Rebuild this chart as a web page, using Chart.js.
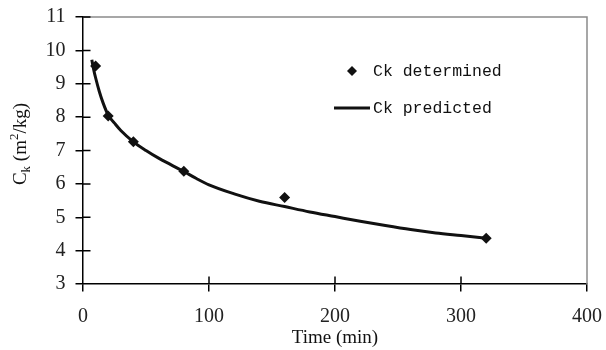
<!DOCTYPE html>
<html>
<head>
<meta charset="utf-8">
<script src="https://cdn.jsdelivr.net/npm/chart.js@4.4.1/dist/chart.umd.min.js"></script>
<style>
    html, body { margin: 0; padding: 0; background: #fff; }
    #wrap { width: 606px; height: 350px; }
</style>
</head>
<body>
<div id="wrap"><canvas id="ckChart"></canvas></div>
<script>
// Measured Ck values (time in min, Ck in m2/kg)
const timeDetermined = [10, 20, 40, 80, 160, 320];
const ckDetermined = [9.53, 8.03, 7.26, 6.38, 5.59, 4.37];

// Predicted curve
const timePredicted = [7, 8.5, 10, 13, 16, 20, 25, 30, 40, 50, 60, 70, 80, 90, 100, 120, 140, 160, 180, 200, 220, 240, 260, 280, 300, 320];
const ckPredicted = [9.72, 9.42, 9.18, 8.76, 8.42, 8.06, 7.82, 7.6, 7.26, 7.0, 6.77, 6.57, 6.37, 6.16, 5.97, 5.7, 5.48, 5.32, 5.16, 5.02, 4.88, 4.75, 4.63, 4.53, 4.45, 4.37];

// Axis ticks and texts
const xTicks = [0, 100, 200, 300, 400];
const yTicks = [3, 4, 5, 6, 7, 8, 9, 10, 11];
const seriesLabels = ["Ck determined", "Ck predicted"];
const xTitle = "Time (min)";
const yTitleParts = [["C", "base"], ["k", "sub"], [" (m", "base"], ["2", "sup"], ["/kg)", "base"]];

const serif = "'Liberation Serif', 'Times New Roman', serif";
const mono = "'Liberation Mono', 'DejaVu Sans Mono', monospace";
const TICK = 7.5;

function toPoints(xs, ys) {
    return xs.map((x, i) => ({ x: x, y: ys[i] }));
}

// Draws the parts Chart.js has no option for: inner tick halves, grey frame,
// the rich-text y title and the legend box inside the plot
const extrasPlugin = {
    id: "extras",
    afterDraw(chart) {
        const ctx = chart.ctx;
        const area = chart.chartArea;
        const xs = chart.scales.x;
        const ys = chart.scales.y;

        ctx.save();
        // grey top and right frame
        ctx.strokeStyle = "#8a8a8a";
        ctx.lineWidth = 1.5;
        ctx.beginPath();
        ctx.moveTo(area.left, area.top);
        ctx.lineTo(area.right, area.top);
        ctx.lineTo(area.right, area.bottom);
        ctx.stroke();

        // inner halves of the crossing tick marks
        ctx.strokeStyle = "#000";
        ctx.lineWidth = 1.5;
        ctx.beginPath();
        xTicks.slice(1, -1).forEach(v => {
            const px = xs.getPixelForValue(v);
            ctx.moveTo(px, area.bottom);
            ctx.lineTo(px, area.bottom - TICK);
        });
        yTicks.slice(1).forEach(v => {
            const py = ys.getPixelForValue(v);
            ctx.moveTo(area.left, py);
            ctx.lineTo(area.left + TICK, py);
        });
        ctx.stroke();

        // y title with subscript k and superscript 2
        const sizes = { base: 19, sub: 13, sup: 13 };
        const shift = { base: 0, sub: 4, sup: -8 };
        let total = 0;
        yTitleParts.forEach(([txt, kind]) => {
            ctx.font = sizes[kind] + "px " + serif;
            total += ctx.measureText(txt).width;
        });
        ctx.translate(26, 144);
        ctx.rotate(-Math.PI / 2);
        ctx.fillStyle = "#111";
        ctx.textBaseline = "alphabetic";
        let cx = -total / 2;
        yTitleParts.forEach(([txt, kind]) => {
            ctx.font = sizes[kind] + "px " + serif;
            ctx.fillText(txt, cx, shift[kind]);
            cx += ctx.measureText(txt).width;
        });
        ctx.restore();

        // legend
        ctx.save();
        ctx.fillStyle = "#111";
        ctx.font = "16.5px " + mono;
        ctx.textBaseline = "middle";
        const mx = 352, my = 71, r = 5;
        ctx.beginPath();
        ctx.moveTo(mx, my - r);
        ctx.lineTo(mx + r, my);
        ctx.lineTo(mx, my + r);
        ctx.lineTo(mx - r, my);
        ctx.closePath();
        ctx.fill();
        ctx.fillText(seriesLabels[0], 373, my + 1);
        ctx.strokeStyle = "#111";
        ctx.lineWidth = 3;
        ctx.beginPath();
        ctx.moveTo(334, 108);
        ctx.lineTo(370, 108);
        ctx.stroke();
        ctx.fillText(seriesLabels[1], 373, 109);
        ctx.restore();
    }
};

const ctx = document.getElementById("ckChart").getContext("2d");
new Chart(ctx, {
    type: "scatter",
    data: {
        datasets: [
            {
                label: seriesLabels[0],
                data: toPoints(timeDetermined, ckDetermined),
                pointStyle: "rectRot",
                pointRadius: 5.5,
                backgroundColor: "#111",
                borderColor: "#111",
                borderWidth: 0,
                showLine: false
            },
            {
                label: seriesLabels[1],
                data: toPoints(timePredicted, ckPredicted),
                showLine: true,
                pointRadius: 0,
                borderColor: "#111",
                borderWidth: 3,
                cubicInterpolationMode: "monotone"
            }
        ]
    },
    options: {
        responsive: true,
        maintainAspectRatio: false,
        animation: false,
        layout: { padding: { left: 0, right: 19, top: 17, bottom: 1 } },
        scales: {
            x: {
                type: "linear",
                min: 0,
                max: 400,
                afterBuildTicks: scale => { scale.ticks = xTicks.map(v => ({ value: v })); },
                afterFit: scale => { scale.height = 65; scale.paddingLeft = 0; scale.paddingRight = 0; },
                grid: { drawOnChartArea: false, drawTicks: true, tickLength: TICK, color: "#000", lineWidth: 1.5 },
                border: { color: "#000", width: 1.5 },
                ticks: { color: "#222", padding: 13, font: { family: serif, size: 20 } },
                title: { display: true, text: xTitle, color: "#111", padding: { top: 0, bottom: 0 }, font: { family: serif, size: 19 } }
            },
            y: {
                type: "linear",
                min: 3,
                max: 11,
                afterBuildTicks: scale => { scale.ticks = yTicks.map(v => ({ value: v })); },
                afterFit: scale => { scale.width = 83; scale.paddingTop = 0; scale.paddingBottom = 0; },
                grid: { drawOnChartArea: false, drawTicks: true, tickLength: TICK, color: "#000", lineWidth: 1.5 },
                border: { color: "#000", width: 1.5 },
                ticks: { color: "#222", padding: 10, font: { family: serif, size: 20 } }
            }
        },
        plugins: {
            legend: { display: false },
            tooltip: { enabled: false }
        }
    },
    plugins: [extrasPlugin]
});
</script>
</body>
</html>
